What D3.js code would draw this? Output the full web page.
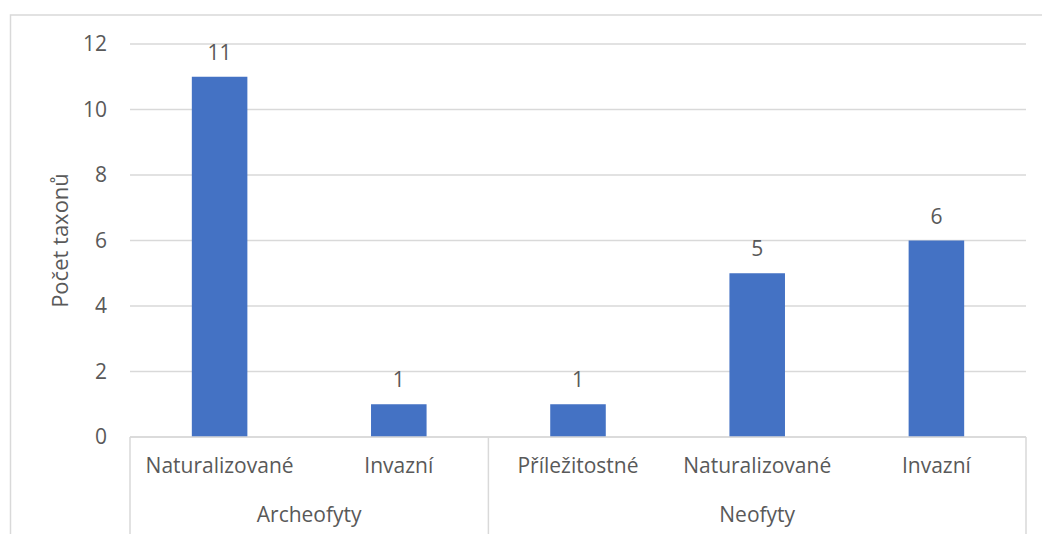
<!DOCTYPE html>
<html>
<head>
<meta charset="utf-8">
<script src="https://cdn.jsdelivr.net/npm/d3@7"></script>
<style>
  body { margin: 0; background: #fff; }
  svg text { font-family: "Open Sans", "Noto Sans", sans-serif; fill: #595959; }
</style>
</head>
<body>
<div id="chart"></div>
<script>
var groups = ["Archeofyty", "Archeofyty", "Neofyty", "Neofyty", "Neofyty"];
var categories = ["Naturalizované", "Invazní", "Příležitostné", "Naturalizované", "Invazní"];
var values = [11, 1, 1, 5, 6];
var yTicks = [0, 2, 4, 6, 8, 10, 12];
var yLabel = "Počet taxonů";

var width = 1042;
var height = 534;
var margin = {left: 130, right: 16, top: 44, bottom: 97};
var innerW = width - margin.left - margin.right;
var innerH = height - margin.top - margin.bottom;
var gridColor = "#d9d9d9";
var fontSize = "21px";

var svg = d3.select("#chart").append("svg")
  .attr("width", width)
  .attr("height", height);

// outer chart frame (runs off the right and bottom edge)
svg.append("rect")
  .attr("x", 10.5)
  .attr("y", 15)
  .attr("width", width + 10)
  .attr("height", height + 10)
  .attr("fill", "none")
  .attr("stroke", gridColor)
  .attr("stroke-width", 1.5);

var g = svg.append("g")
  .attr("transform", "translate(" + margin.left + "," + margin.top + ")");

var idx = d3.range(values.length);

var x = d3.scaleBand()
  .domain(idx)
  .range([0, innerW])
  .paddingInner(0.69)
  .paddingOuter(0.345);

var y = d3.scaleLinear()
  .domain([0, 12])
  .range([innerH, 0]);

// gridlines
g.append("g")
  .selectAll("line")
  .data(yTicks)
  .enter().append("line")
    .attr("x1", 0)
    .attr("x2", innerW)
    .attr("y1", function(d) { return y(d); })
    .attr("y2", function(d) { return y(d); })
    .attr("stroke", gridColor)
    .attr("stroke-width", 1.5);

// y axis labels
var yAxis = d3.axisLeft(y)
  .tickValues(yTicks)
  .tickSize(0)
  .tickPadding(23);

g.append("g")
  .call(yAxis)
  .call(function(s) { s.select(".domain").remove(); })
  .selectAll("text")
    .style("font-size", fontSize)
    .attr("fill", "#595959");

g.append("text")
  .attr("transform", "translate(" + (60 - margin.left) + "," + (innerH / 2) + ") rotate(-90)")
  .attr("text-anchor", "middle")
  .attr("dy", "0.35em")
  .style("font-size", "22px")
  .text(yLabel);

// bars
g.selectAll("rect.bar")
  .data(values)
  .enter().append("rect")
    .attr("class", "bar")
    .attr("x", function(d, i) { return x(i); })
    .attr("y", function(d) { return y(d); })
    .attr("width", x.bandwidth())
    .attr("height", function(d) { return innerH - y(d); })
    .attr("fill", "#4472c4");

// value labels
g.selectAll("text.val")
  .data(values)
  .enter().append("text")
    .attr("class", "val")
    .attr("x", function(d, i) { return x(i) + x.bandwidth() / 2; })
    .attr("y", function(d) { return y(d) - 17; })
    .attr("text-anchor", "middle")
    .style("font-size", fontSize)
    .text(function(d) { return d; });

// category axis: baseline and separators
var step = x.step();
g.append("line")
  .attr("x1", 0).attr("x2", innerW)
  .attr("y1", innerH).attr("y2", innerH)
  .attr("stroke", gridColor)
  .attr("stroke-width", 1.5);

var groupNames = [];
groups.forEach(function(d) { if (groupNames.indexOf(d) < 0) groupNames.push(d); });
var groupSpans = groupNames.map(function(name) {
  var members = idx.filter(function(i) { return groups[i] === name; });
  return {name: name, start: d3.min(members), end: d3.max(members) + 1};
});

var seps = [0].concat(groupSpans.map(function(d) { return d.end; }));
g.selectAll("line.sep")
  .data(seps)
  .enter().append("line")
    .attr("class", "sep")
    .attr("x1", function(d) { return d * step; })
    .attr("x2", function(d) { return d * step; })
    .attr("y1", innerH)
    .attr("y2", innerH + margin.bottom)
    .attr("stroke", gridColor)
    .attr("stroke-width", 1.5);

g.selectAll("text.cat")
  .data(categories)
  .enter().append("text")
    .attr("class", "cat")
    .attr("x", function(d, i) { return x(i) + x.bandwidth() / 2; })
    .attr("y", innerH + 29)
    .attr("dy", "0.35em")
    .attr("text-anchor", "middle")
    .style("font-size", fontSize)
    .text(function(d) { return d; });

g.selectAll("text.grp")
  .data(groupSpans)
  .enter().append("text")
    .attr("class", "grp")
    .attr("x", function(d) { return (d.start + d.end) / 2 * step; })
    .attr("y", innerH + 78)
    .attr("dy", "0.35em")
    .attr("text-anchor", "middle")
    .style("font-size", fontSize)
    .text(function(d) { return d.name; });
</script>
</body>
</html>
